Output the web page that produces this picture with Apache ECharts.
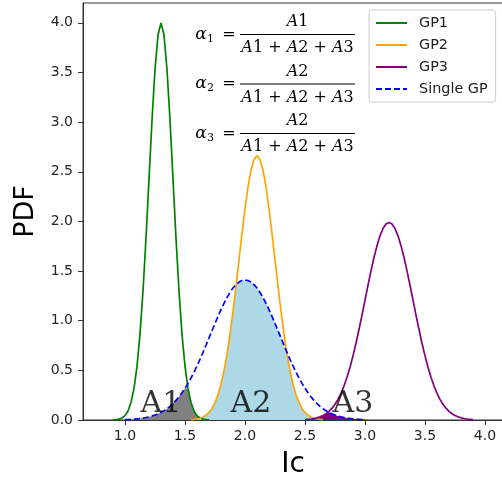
<!DOCTYPE html>
<html>
<head>
<meta charset="utf-8">
<script src="https://cdn.jsdelivr.net/npm/echarts@6/dist/echarts.min.js"></script>
<style>html,body{margin:0;padding:0;background:#fff}#c{width:502px;height:482px}</style>
</head>
<body>
<div id="c"></div>
<script>
// sampling step of the read-off curves (Ic)
const lcStep = 0.025;
// GP1, Ic 0.90 .. 1.70
const gp1Start = 0.9;
const gp1 = [0.001,0.004,0.009,0.020,0.044,0.091,0.176,0.318,0.541,0.865,1.299,1.831,2.426,3.019,3.530,3.877,4.000,
             3.877,3.530,3.019,2.426,1.831,1.299,0.865,0.541,0.318,0.176,0.091,0.044,0.020,0.009,0.004,0.001];
// GP2, Ic 1.55 .. 2.65
const gp2Start = 1.55;
const gp2 = [0.003,0.006,0.010,0.018,0.030,0.048,0.076,0.117,0.175,0.254,0.360,0.495,0.663,0.864,1.094,1.347,1.613,1.880,2.130,2.347,2.516,2.623,2.660,
             2.623,2.516,2.347,2.130,1.880,1.613,1.347,1.094,0.864,0.663,0.495,0.360,0.254,0.175,0.117,0.076,0.048,0.030,0.018,0.010,0.006,0.003];
// GP3, Ic 2.50 .. 3.90
const gp3Start = 2.5;
const gp3 = [0.004,0.007,0.010,0.015,0.022,0.032,0.045,0.063,0.087,0.119,0.158,0.208,0.269,0.343,0.430,0.531,0.646,0.773,0.911,1.057,1.207,1.357,1.502,1.637,1.756,1.855,1.929,1.974,1.990,
             1.974,1.929,1.855,1.756,1.637,1.502,1.357,1.207,1.057,0.911,0.773,0.646,0.531,0.430,0.343,0.269,0.208,0.158,0.119,0.087,0.063,0.045,0.032,0.022,0.015,0.010,0.007,0.004];
// Single GP, Ic 1.00 .. 3.00
const singleStart = 1.0;
const single = [0.004,0.005,0.007,0.009,0.011,0.015,0.019,0.025,0.031,0.040,0.050,0.062,0.077,0.094,0.114,0.138,0.166,0.198,0.233,0.274,
                0.319,0.369,0.423,0.482,0.545,0.611,0.681,0.753,0.826,0.899,0.972,1.044,1.112,1.175,1.233,1.285,1.329,1.364,1.389,1.405,1.410,
                1.405,1.389,1.364,1.329,1.285,1.233,1.175,1.112,1.044,0.972,0.899,0.826,0.753,0.681,0.611,0.545,0.482,0.423,0.369,0.319,
                0.274,0.233,0.198,0.166,0.138,0.114,0.094,0.077,0.062,0.050,0.040,0.031,0.025,0.019,0.015,0.011,0.009,0.007,0.005,0.004];
const seriesNames = ['GP1','GP2','GP3','Single GP'];
const xTicks = [1.0,1.5,2.0,2.5,3.0,3.5,4.0];
const yTicks = [0.0,0.5,1.0,1.5,2.0,2.5,3.0,3.5,4.0];
const areaNames = ['A1','A2','A3'];
const areaLabelX = [1.30,2.05,2.90];
const areaLabelY = [0.155,0.155,0.155];
const fracNumerators = [['A','1'],['A','2'],['A','2']];
const alphaSubs = ['1','2','3'];

function pts(start, arr){ return arr.map((v,i)=>[+(start+i*lcStep).toFixed(3), v]); }
function singleAt(x){
  const j = Math.round((x - singleStart)/lcStep);
  return (j>=0 && j<single.length) ? single[j] : 0;
}
function overlap(start, arr){ return arr.map((v,i)=>{ const x=+(start+i*lcStep).toFixed(3); return [x, Math.min(v, singleAt(x))]; }); }

const chart = echarts.init(document.getElementById('c'), null, {renderer:'canvas'});
const lineCommon = {type:'line', symbol:'none', showSymbol:false, smooth:false, animation:false, silent:true, z:3};
const fillCommon = {type:'line', symbol:'none', showSymbol:false, smooth:false, animation:false, silent:true, z:2, lineStyle:{width:0}};

const serif = 'DejaVu Serif';
const graphics = [];
const lineYs = [34.5, 84, 133.5];
lineYs.forEach((ly, k)=>{
  graphics.push({type:'text', x:201, y:ly, style:{text:'α', fontFamily:serif, fontStyle:'italic', fontSize:17, fill:'#000', align:'center', verticalAlign:'middle'}});
  graphics.push({type:'text', x:210.5, y:ly+4.5, style:{text:alphaSubs[k], fontFamily:serif, fontSize:11, fill:'#000', align:'center', verticalAlign:'middle'}});
  graphics.push({type:'text', x:229, y:ly, style:{text:'=', fontFamily:serif, fontSize:16, fill:'#000', align:'center', verticalAlign:'middle'}});
  graphics.push({type:'line', shape:{x1:240, y1:ly, x2:355, y2:ly}, style:{stroke:'#000', lineWidth:1}});
  const n = fracNumerators[k];
  graphics.push({type:'text', x:297.5, y:ly-12.5, style:{text:'{i|'+n[0]+'}{r|'+n[1]+'}', align:'center', verticalAlign:'middle',
     rich:{i:{fontFamily:serif, fontStyle:'italic', fontSize:16, fill:'#000'}, r:{fontFamily:serif, fontSize:16, fill:'#000'}}}});
  graphics.push({type:'text', x:297.5, y:ly+13.5, style:{text:'{i|A}{r|1}{r| + }{i|A}{r|2}{r| + }{i|A}{r|3}', align:'center', verticalAlign:'middle',
     rich:{i:{fontFamily:serif, fontStyle:'italic', fontSize:16, fill:'#000'}, r:{fontFamily:serif, fontSize:16, fill:'#000'}}}});
});

const option = {
  animation:false,
  backgroundColor:'#fff',
  grid:{left:83, top:3, right:-1, bottom:62, show:true, borderColor:'#333', borderWidth:1, backgroundColor:'transparent', containLabel:false, outerBoundsMode:'none'},
  legend:{
    data:seriesNames, orient:'vertical', left:369, top:10,
    itemWidth:31, itemHeight:14, itemGap:8,
    padding:[6,8,6,6],
    backgroundColor:'rgba(255,255,255,0.8)', borderColor:'#cccccc', borderWidth:1, borderRadius:3,
    itemStyle:{opacity:0},
    textStyle:{fontFamily:'DejaVu Sans', fontSize:14.4, color:'#222', padding:[0,0,0,7]},
    selectedMode:false
  },
  xAxis:{
    type:'value', min:0.65, max:4.15,
    name:'Ic', nameLocation:'middle', nameGap:31,
    nameTextStyle:{fontFamily:'DejaVu Sans', fontSize:28, color:'#000'},
    axisLine:{show:true, onZero:false, lineStyle:{color:'#333', width:1}},
    axisTick:{show:true, inside:false, length:5, customValues:xTicks, lineStyle:{color:'#333', width:1}},
    axisLabel:{show:true, margin:9, customValues:xTicks, formatter:v=>v.toFixed(1), fontFamily:'DejaVu Sans', fontSize:14, color:'#262626'},
    splitLine:{show:false}
  },
  yAxis:{
    type:'value', min:0, max:4.2,
    name:'PDF', nameLocation:'middle', nameGap:35,
    nameTextStyle:{fontFamily:'DejaVu Sans', fontSize:27, color:'#000'},
    axisLine:{show:true, lineStyle:{color:'#333', width:1}},
    axisTick:{show:true, inside:false, length:5, customValues:yTicks, lineStyle:{color:'#333', width:1}},
    axisLabel:{show:true, margin:10, customValues:yTicks, formatter:v=>v.toFixed(1), fontFamily:'DejaVu Sans', fontSize:14, color:'#262626'},
    splitLine:{show:false}
  },
  series:[
    Object.assign({}, fillCommon, {name:'fillA1', data:overlap(gp1Start, gp1), itemStyle:{color:'#808080'}, areaStyle:{color:'#808080', opacity:1}}),
    Object.assign({}, fillCommon, {name:'fillA2', data:overlap(gp2Start, gp2), itemStyle:{color:'#add8e6'}, areaStyle:{color:'#add8e6', opacity:1}}),
    Object.assign({}, fillCommon, {name:'fillA3', data:overlap(gp3Start, gp3), itemStyle:{color:'#800080'}, areaStyle:{color:'#800080', opacity:1}}),
    Object.assign({}, lineCommon, {name:seriesNames[0], data:pts(gp1Start, gp1), itemStyle:{color:'#008000'}, lineStyle:{color:'#008000', width:1.7}}),
    Object.assign({}, lineCommon, {name:seriesNames[1], data:pts(gp2Start, gp2), itemStyle:{color:'#ffa500'}, lineStyle:{color:'#ffa500', width:1.7}}),
    Object.assign({}, lineCommon, {name:seriesNames[2], data:pts(gp3Start, gp3), itemStyle:{color:'#800080'}, lineStyle:{color:'#800080', width:1.7}}),
    Object.assign({}, lineCommon, {name:seriesNames[3], data:pts(singleStart, single), itemStyle:{color:'#0000ff'}, lineStyle:{color:'#0000ff', width:1.7, type:[6,3]}, z:4}),
    {type:'scatter', name:'areaLabels', symbolSize:1, itemStyle:{color:'rgba(0,0,0,0)'}, silent:true, z:6,
     data:areaNames.map((n,i)=>({name:n, value:[areaLabelX[i], areaLabelY[i]]})),
     label:{show:true, position:'inside', formatter:'{b}', fontFamily:serif, fontSize:30, color:'#000'}}
  ],
  graphic:graphics
};
chart.setOption(option);
</script>
</body>
</html>
